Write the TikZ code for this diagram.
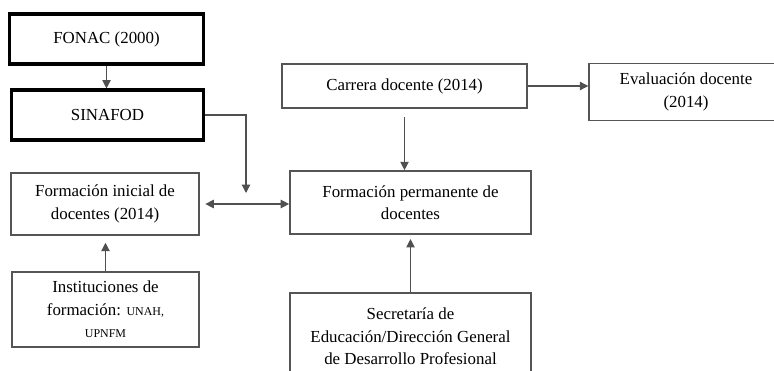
\documentclass[tikz,border=0pt]{standalone}
\usepackage{fontspec}
\setmainfont{Liberation Serif}
\usetikzlibrary{arrows.meta}
\definecolor{BoxGray}{RGB}{85,85,85}
\definecolor{LineGray}{RGB}{80,80,80}
\tikzset{
  box/.style={draw=BoxGray,line width=1pt,fill=white,align=center,inner sep=2pt,
    font=\fontsize{12}{16}\selectfont},
  boldbox/.style={box,draw=black,line width=2.2pt},
  link/.style={draw=LineGray,line width=0.8pt,-{Triangle[length=6pt,width=6pt]}},
}
\newcommand{\smallcaps}[1]{{\fontsize{8.5}{10}\selectfont #1}}

\begin{document}
\begin{tikzpicture}[x=0.025cm,y=-0.025cm]
\useasboundingbox (0,0) rectangle (774,370);
\clip (0,0) rectangle (774,370);
\node[boldbox,minimum width=4.83cm,minimum height=1.25cm] (fonac) at (106.5,39) {FONAC (2000)};
\node[boldbox,minimum width=4.78cm,minimum height=1.25cm] (sinafod) at (107.5,115) {SINAFOD};
\node[box,minimum width=4.7cm,minimum height=1.55cm] (inicial) at (105,204) {Formación inicial de\\docentes (2014)};
\node[box,minimum width=4.68cm,minimum height=1.88cm] (inst) at (105.5,309.5) {Instituciones de\\formación: \smallcaps{UNAH,}\\\smallcaps{UPNFM}};
\node[box,minimum width=6.13cm,minimum height=1.1cm] (carrera) at (404.5,86) {Carrera docente (2014)};
\node[box,minimum width=6.03cm,minimum height=1.58cm] (permanente) at (410.5,202.5) {Formación permanente de\\docentes};
\node[box,minimum width=4.85cm,minimum height=1.43cm] (evaluacion) at (686,92) {Evaluación docente\\(2014)};
\node[box,minimum width=6.03cm,minimum height=2.18cm] (secretaria) at (410.5,336.5) {Secretaría de\\Educación/Dirección General\\de Desarrollo Profesional};
\coordinate (join) at (246,193);
% links
\draw[link] (fonac.south) -- (fonac.south |- sinafod.north);
\draw[link] (sinafod.east) -| (join);
\draw[link,{Triangle[length=6pt,width=6pt]}-{Triangle[length=6pt,width=6pt]},shorten <=4pt] (inicial.east) -- (inicial.east -| permanente.west);
\draw[link] (carrera.east) -- (carrera.east -| evaluacion.west);
\draw[link,shorten <=6pt] (carrera.south) -- (carrera.south |- permanente.north);
\draw[link,shorten >=5pt] (inst.north) -- (inst.north |- inicial.south);
\draw[link,shorten >=3pt] (secretaria.north) -- (secretaria.north |- permanente.south);
\end{tikzpicture}
\end{document}
